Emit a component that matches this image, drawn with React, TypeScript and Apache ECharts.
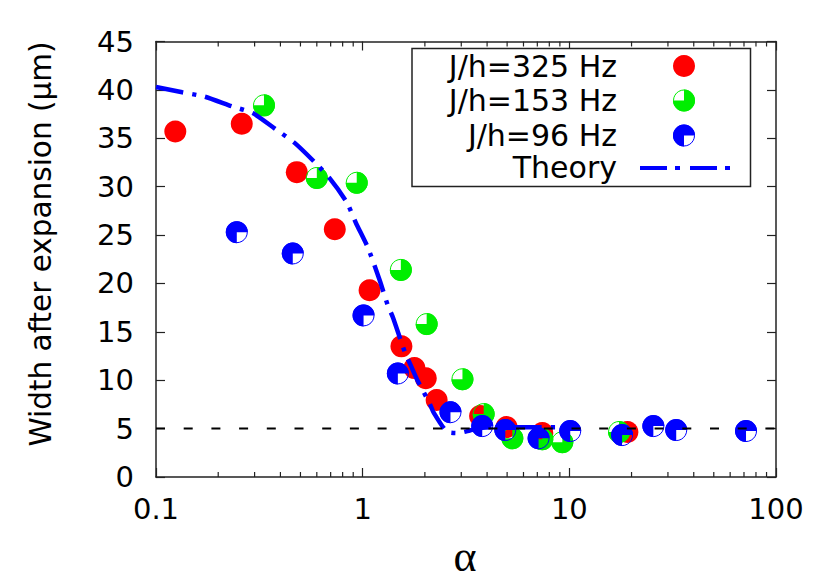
import React, { useEffect, useRef } from "react";
import * as echarts from "echarts";

// ---- data ----
const hz325Alpha = [0.124, 0.26, 0.48, 0.733, 1.08, 1.54, 1.78, 2.02, 2.28, 3.7, 4.97, 7.4, 19.1];
const hz325Width = [35.7, 36.5, 31.5, 25.6, 19.3, 13.5, 11.25, 10.2, 7.95, 6.3, 5.16, 4.55, 4.65];

const hz153Alpha = [0.333, 0.6, 0.936, 1.53, 2.04, 3.04, 3.85, 5.3, 7.4, 9.25, 17.4];
const hz153Width = [38.4, 30.9, 30.4, 21.4, 15.8, 10.1, 6.5, 4.0, 3.9, 3.6, 4.65];

const hz96Alpha = [0.246, 0.459, 1.01, 1.48, 2.66, 3.79, 4.9, 7.1, 10.1, 18.0, 25.5, 32.9, 71.6];
const hz96Width = [25.3, 23.1, 16.7, 10.7, 6.7, 5.26, 4.85, 4.0, 4.75, 4.33, 5.26, 4.85, 4.75];

const theoryAlpha = [0.1, 0.134, 0.172, 0.233, 0.294, 0.376, 0.47, 0.588, 0.69, 0.837, 0.93, 1.06, 1.21, 1.32, 1.4, 1.6, 1.72, 1.84, 2.11, 2.2, 2.55, 2.9, 3.3, 3.8, 5, 7, 9];
const theoryWidth = [40.3, 39.75, 39.3, 38.3, 37.6, 36.0, 34.5, 32.5, 30.9, 28.4, 26.2, 23.7, 20.3, 17.8, 16.5, 12.9, 11.4, 10.0, 7.6, 6.7, 4.7, 4.55, 4.8, 5.1, 5.15, 5.15, 5.15];

const refAlpha = [0.1, 100];
const refWidth = [5, 5];

const legendNames = ["J/h=325 Hz", "J/h=153 Hz", "J/h=96 Hz", "Theory"];
const xTitle = "α";
const yTitle = "Width after expansion (μm)";

const minorMultipliers = [2, 3, 4, 5, 6, 7, 8, 9];
const decades = [0.1, 1, 10];

const RED = "#ff0000";
const GREEN = "#00ee00";
const BLUE = "#0000ff";
const AXIS = "#222222";
const FONT = "DejaVu Sans";
const R = 11;

type Quarter = null | { start: number; end: number };

function pointShapes(cx: number, cy: number, color: string, q: Quarter, z?: number) {
  const zz = z === undefined ? {} : { z };
  if (!q) {
    return [{ type: "circle", ...zz, shape: { cx, cy, r: R }, style: { fill: color } }];
  }
  return [
    { type: "circle", ...zz, shape: { cx, cy, r: R - 0.5 }, style: { fill: "none", stroke: color, lineWidth: 1 } },
    {
      type: "sector",
      ...zz,
      shape: { cx, cy, r0: 0, r: R, startAngle: q.start, endAngle: q.end, clockwise: true },
      style: { fill: color },
    },
  ];
}

const GREEN_Q: Quarter = { start: -Math.PI / 2, end: Math.PI };
const BLUE_Q: Quarter = { start: Math.PI / 2, end: Math.PI * 2 };

function markerSeries(name: string, xs: number[], ys: number[], color: string, q: Quarter, z: number) {
  return {
    type: "custom",
    name,
    z,
    encode: { x: 0, y: 1 },
    data: xs.map((x, i) => [x, ys[i]]),
    renderItem: (_params: any, api: any) => {
      const p = api.coord([api.value(0), api.value(1)]);
      return { type: "group", children: pointShapes(p[0], p[1], color, q) };
    },
  };
}

export default function App() {
  const ref = useRef<HTMLDivElement>(null);

  useEffect(() => {
    if (!ref.current) return;
    const chart = echarts.init(ref.current, undefined, { renderer: "svg" });

    const minorVals: number[][] = [];
    decades.forEach((d) => minorMultipliers.forEach((m) => minorVals.push([d * m, 0])));

    const axisCommon = {
      axisLine: { show: true, onZero: false, lineStyle: { color: AXIS, width: 1.5 } },
      axisTick: { show: true, inside: true, length: 9, lineStyle: { color: AXIS, width: 1.2 } },
      splitLine: { show: false },
    };

    const legendX = 617;
    const legendMarkX = 684;
    const rowsY = [66, 100.5, 135.5, 167];

    const legendGraphics: any[] = [
      {
        type: "rect",
        shape: { x: 412, y: 48.5, width: 338.5, height: 138 },
        style: { fill: "#fff", stroke: AXIS, lineWidth: 1.5 },
        z: 100,
      },
    ];
    legendNames.forEach((name, i) => {
      legendGraphics.push({
        type: "text",
        x: legendX,
        y: rowsY[i],
        z: 101,
        style: {
          text: name,
          align: "right",
          verticalAlign: "middle",
          fontSize: 30,
          fontFamily: FONT,
          fill: "#000",
        },
      });
    });
    const legMarks: [string, Quarter][] = [
      [RED, null],
      [GREEN, GREEN_Q],
      [BLUE, BLUE_Q],
    ];
    legMarks.forEach(([c, q], i) => {
      pointShapes(legendMarkX, rowsY[i], c, q, 102).forEach((el) => legendGraphics.push(el));
    });
    legendGraphics.push({
      type: "line",
      z: 101,
      shape: { x1: 640, y1: 168, x2: 731, y2: 168 },
      style: { stroke: BLUE, lineWidth: 4, lineDash: [27, 8, 5, 10] },
    });

    chart.setOption({
      animation: false,
      backgroundColor: "#fff",
      grid: { left: 156, right: 54, top: 41.5, bottom: 104, containLabel: false },
      xAxis: [
        {
          type: "log",
          logBase: 10,
          min: 0.1,
          max: 100,
          position: "bottom",
          ...axisCommon,
          axisLabel: {
            fontSize: 29,
            fontFamily: FONT,
            color: "#000",
            margin: 17,
            formatter: (v: number) => String(Number(v.toPrecision(3))),
          },
        },
        {
          type: "log",
          logBase: 10,
          min: 0.1,
          max: 100,
          position: "top",
          ...axisCommon,
          axisLabel: { show: false },
        },
      ],
      yAxis: [
        {
          type: "value",
          min: 0,
          max: 45,
          interval: 5,
          position: "left",
          ...axisCommon,
          axisLabel: { fontSize: 29, fontFamily: FONT, color: "#000", margin: 22 },
        },
        {
          type: "value",
          min: 0,
          max: 45,
          interval: 5,
          position: "right",
          ...axisCommon,
          axisLabel: { show: false },
        },
      ],
      graphic: [
        {
          type: "text",
          x: 41,
          y: 244,
          rotation: Math.PI / 2,
          style: {
            text: yTitle,
            align: "center",
            verticalAlign: "middle",
            fontSize: 29.5,
            fontFamily: FONT,
            fill: "#000",
          },
        },
        {
          type: "text",
          x: 465,
          y: 556,
          style: {
            text: xTitle,
            align: "center",
            verticalAlign: "middle",
            lineHeight: 44,
            fontSize: 44,
            fontFamily: "Liberation Serif",
            fill: "#000",
          },
        },
        ...legendGraphics,
      ],
      series: [
        {
          type: "custom",
          name: "minorTicks",
          silent: true,
          z: 1,
          encode: { x: 0, y: 1 },
          data: minorVals,
          renderItem: (_p: any, api: any) => {
            const v = api.value(0);
            const b = api.coord([v, 0]);
            const t = api.coord([v, 45]);
            const st = { stroke: AXIS, lineWidth: 1.2 };
            return {
              type: "group",
              children: [
                { type: "line", shape: { x1: b[0], y1: b[1], x2: b[0], y2: b[1] - 5 }, style: st },
                { type: "line", shape: { x1: t[0], y1: t[1], x2: t[0], y2: t[1] + 5 }, style: st },
              ],
            };
          },
        },
        markerSeries(legendNames[0], hz325Alpha, hz325Width, RED, null, 2),
        markerSeries(legendNames[1], hz153Alpha, hz153Width, GREEN, GREEN_Q, 3),
        markerSeries(legendNames[2], hz96Alpha, hz96Width, BLUE, BLUE_Q, 4),
        {
          type: "line",
          name: legendNames[3],
          z: 5,
          data: theoryAlpha.map((x, i) => [x, theoryWidth[i]]),
          showSymbol: false,
          symbol: "none",
          smooth: 0.2,
          lineStyle: { color: BLUE, width: 4.5, type: [28, 9, 4, 9] },
        },
        {
          type: "line",
          name: "ref",
          z: 6,
          data: refAlpha.map((x, i) => [x, refWidth[i]]),
          showSymbol: false,
          symbol: "none",
          lineStyle: { color: "#000", width: 2, type: [9, 18.7] },
        },
      ],
    });

    return () => chart.dispose();
  }, []);

  return <div ref={ref} style={{ width: 830, height: 581, margin: -8 }} />;
}
